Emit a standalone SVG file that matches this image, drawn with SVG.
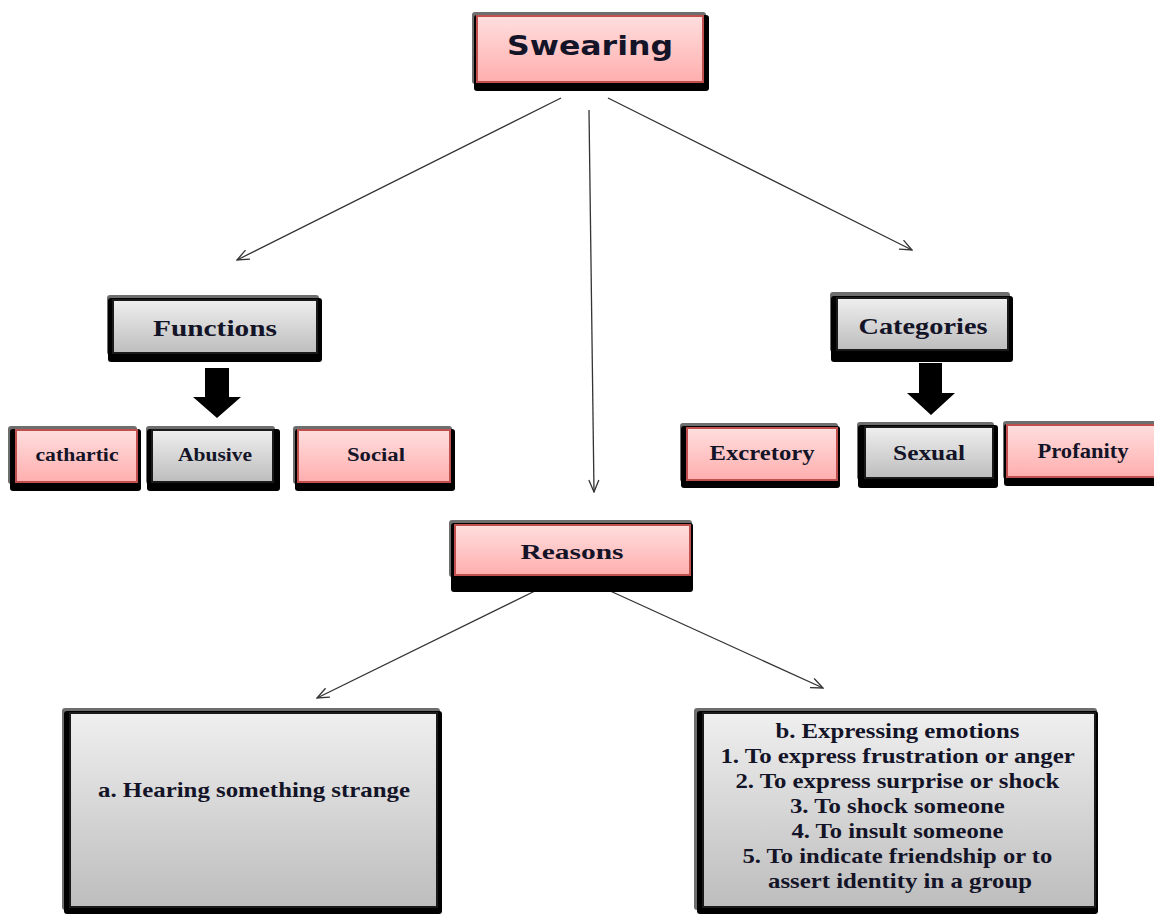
<svg xmlns="http://www.w3.org/2000/svg" width="1154" height="914" viewBox="0 0 1154 914">
<defs>
<linearGradient id="gPink" x1="0" y1="0" x2="0" y2="1"><stop offset="0" stop-color="#ffdede"/><stop offset="1" stop-color="#ffaeae"/></linearGradient>
<linearGradient id="gGray" x1="0" y1="0" x2="0" y2="1"><stop offset="0" stop-color="#efefef"/><stop offset="1" stop-color="#bdbdbd"/></linearGradient>
<marker id="open" markerWidth="14" markerHeight="12" refX="13" refY="6" orient="auto" markerUnits="userSpaceOnUse"><path d="M1,1 L13,6 L1,11" fill="none" stroke="#333" stroke-width="1.3"/></marker>
<style>
.sg{fill:#6e6e6e}
.sb{fill:#000}
.pk{fill:url(#gPink);stroke:#c0504d;stroke-width:2}
.gy{fill:url(#gGray);stroke:#1a1a1a;stroke-width:2}
.t{font-family:"Liberation Serif","Times New Roman",serif;font-weight:bold;fill:#141428;text-anchor:middle}
.big{font-family:"DejaVu Sans","Verdana",sans-serif;font-weight:bold;fill:#141428;text-anchor:middle}
.c{fill:none;stroke:#333;stroke-width:1.3}
.fat{fill:#000}
</style>
</defs>
<rect width="1154" height="914" fill="#fff"/>
<g id="connectors">
<line class="c" x1="561" y1="98" x2="237" y2="260" marker-end="url(#open)"/>
<line class="c" x1="589" y1="110" x2="594" y2="492" marker-end="url(#open)"/>
<line class="c" x1="608" y1="98" x2="912" y2="250" marker-end="url(#open)"/>
<line class="c" x1="537" y1="590" x2="317" y2="698" marker-end="url(#open)"/>
<line class="c" x1="608" y1="590" x2="823" y2="688" marker-end="url(#open)"/>
<path class="fat" d="M205,368 H229 V397 H241 L217,418 L193,397 H205 Z"/>
<path class="fat" d="M919,363 H942 V393 H955 L931,415 L907,393 H919 Z"/>
</g>
<g id="swearing">
<rect class="sg" x="472" y="12" width="234" height="72" rx="3"/>
<rect class="sb" x="474" y="15" width="235" height="76" rx="3"/>
<rect class="pk" x="477" y="16" width="226" height="66"/>
<text class="big" x="590" y="55" font-size="26" textLength="166" lengthAdjust="spacingAndGlyphs">Swearing</text>
</g>
<g id="functions">
<rect class="sg" x="107" y="295" width="212" height="60" rx="3"/>
<rect class="sb" x="108" y="298" width="214" height="64" rx="3"/>
<rect class="gy" x="113" y="300" width="204" height="53"/>
<text class="t" x="215" y="336" font-size="23" textLength="124" lengthAdjust="spacingAndGlyphs">Functions</text>
</g>
<g id="cathartic">
<rect class="sg" x="8" y="426" width="129" height="58" rx="3"/>
<rect class="sb" x="10" y="429" width="131" height="62" rx="3"/>
<rect class="pk" x="16" y="430" width="121" height="52"/>
<text class="t" x="77" y="461" font-size="18" textLength="83" lengthAdjust="spacingAndGlyphs">cathartic</text>
</g>
<g id="abusive">
<rect class="sg" x="146" y="426" width="129" height="58" rx="3"/>
<rect class="sb" x="147" y="429" width="133" height="62" rx="3"/>
<rect class="gy" x="152" y="430" width="121" height="52"/>
<text class="t" x="215" y="461" font-size="18" textLength="74" lengthAdjust="spacingAndGlyphs">Abusive</text>
</g>
<g id="social">
<rect class="sg" x="293" y="426" width="159" height="58" rx="3"/>
<rect class="sb" x="295" y="429" width="160" height="62" rx="3"/>
<rect class="pk" x="298" y="430" width="152" height="52"/>
<text class="t" x="376" y="461" font-size="18" textLength="58" lengthAdjust="spacingAndGlyphs">Social</text>
</g>
<g id="categories">
<rect class="sg" x="830" y="292" width="180" height="60" rx="3"/>
<rect class="sb" x="831" y="296" width="182" height="66" rx="3"/>
<rect class="gy" x="837" y="298" width="171" height="52"/>
<text class="t" x="923" y="334" font-size="23" textLength="129" lengthAdjust="spacingAndGlyphs">Categories</text>
</g>
<g id="excretory">
<rect class="sg" x="680" y="423" width="158" height="59" rx="3"/>
<rect class="sb" x="681" y="426" width="159" height="62" rx="3"/>
<rect class="pk" x="687" y="428" width="150" height="52"/>
<text class="t" x="762" y="460" font-size="20" textLength="105" lengthAdjust="spacingAndGlyphs">Excretory</text>
</g>
<g id="sexual">
<rect class="sg" x="857" y="422" width="137" height="58" rx="3"/>
<rect class="sb" x="858" y="425" width="140" height="63" rx="3"/>
<rect class="gy" x="865" y="427" width="128" height="51"/>
<text class="t" x="929" y="460" font-size="20" textLength="72" lengthAdjust="spacingAndGlyphs">Sexual</text>
</g>
<g id="profanity">
<rect class="sg" x="1003" y="421" width="160" height="58" rx="3"/>
<rect class="sb" x="1004" y="424" width="160" height="62" rx="3"/>
<rect class="pk" x="1007" y="425" width="160" height="52"/>
<text class="t" x="1083" y="458" font-size="20" textLength="91" lengthAdjust="spacingAndGlyphs">Profanity</text>
</g>
<g id="reasons">
<rect class="sg" x="449" y="520" width="243" height="57" rx="3"/>
<rect class="sb" x="451" y="523" width="242" height="69" rx="3"/>
<rect class="pk" x="455" y="525" width="235" height="50"/>
<text class="t" x="572" y="559" font-size="21" textLength="103" lengthAdjust="spacingAndGlyphs">Reasons</text>
</g>
<g id="hearing">
<rect class="sg" x="62" y="708" width="378" height="202" rx="3"/>
<rect class="sb" x="64" y="711" width="378" height="203" rx="3"/>
<rect class="gy" x="70" y="713" width="367" height="194"/>
<text class="t" x="254" y="797" font-size="21" textLength="312" lengthAdjust="spacingAndGlyphs">a. Hearing something strange</text>
</g>
<g id="expressing">
<rect class="sg" x="694" y="708" width="403" height="202" rx="3"/>
<rect class="sb" x="697" y="711" width="401" height="203" rx="3"/>
<rect class="gy" x="703" y="713" width="392" height="194"/>
<text class="t" font-size="21">
<tspan x="900" y="738" textLength="244" lengthAdjust="spacingAndGlyphs">b. Expressing emotions</tspan>
<tspan x="900" y="763" textLength="354" lengthAdjust="spacingAndGlyphs">1. To express frustration or anger</tspan>
<tspan x="900" y="788" textLength="324" lengthAdjust="spacingAndGlyphs">2. To express surprise or shock</tspan>
<tspan x="900" y="813" textLength="215" lengthAdjust="spacingAndGlyphs">3. To shock someone</tspan>
<tspan x="900" y="838" textLength="212" lengthAdjust="spacingAndGlyphs">4. To insult someone</tspan>
<tspan x="900" y="863" textLength="310" lengthAdjust="spacingAndGlyphs">5. To indicate friendship or to</tspan>
<tspan x="900" y="888" textLength="264" lengthAdjust="spacingAndGlyphs">assert identity in a group</tspan>
</text>
</g>
</svg>
